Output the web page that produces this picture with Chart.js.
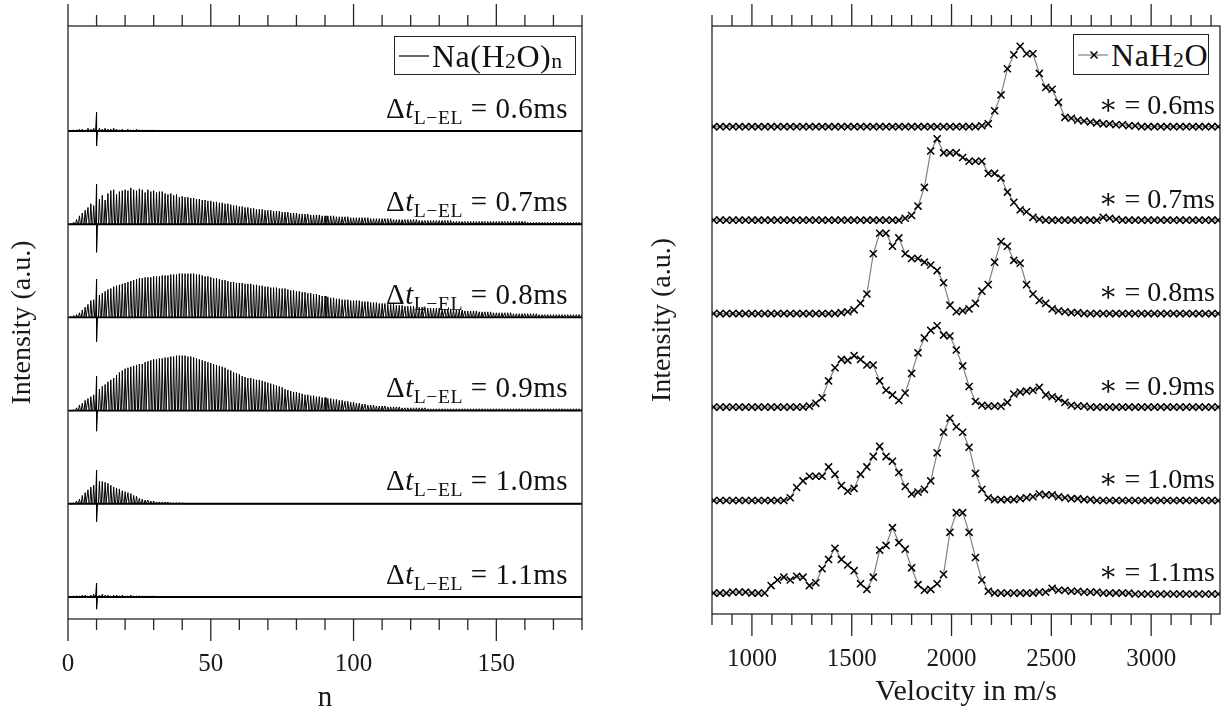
<!DOCTYPE html>
<html>
<head>
<meta charset="utf-8">
<script src="https://cdn.jsdelivr.net/npm/chart.js@4.4.0/dist/chart.umd.min.js"></script>
<style>
  html, body { margin: 0; padding: 0; background: #fff; }
  #wrap { position: relative; width: 1221px; height: 711px; overflow: hidden;
          font-family: 'Liberation Serif', 'DejaVu Serif', serif; color: #111; }
  canvas { position: absolute; top: 0; }
  #spectra { left: 0; }
  #velocity { left: 640px; }
  .note { position: absolute; white-space: nowrap; line-height: 1; }
  .sub { position: relative; top: 0.3em; font-size: 0.68em; }
  .legend { position: absolute; box-sizing: border-box; border: 1.4px solid #262626; background: #fff;
            display: flex; align-items: center; white-space: nowrap; font-size: 32px; line-height: 1; letter-spacing: 0.5px; }
  .legend svg { margin: 0 3px 0 4px; }
</style>
</head>
<body>
<div id="wrap">
  <canvas id="spectra" width="640" height="711"></canvas>
  <canvas id="velocity" width="640" height="711"></canvas>
</div>
<script>
// delay times between laser and extraction, one trace each, top to bottom
const delays = ['0.6', '0.7', '0.8', '0.9', '1.0', '1.1'];
const offsets = [500, 400, 300, 200, 100, 0];

// ---- left: mass spectra, peak height for cluster size n = 1, 2, 3 ...
const nMax = 180;
const h06 = [0,1,1,2,2,1,3,2,3,0, 3,2,3,2,2,3,2,1,2,1, 2,1,1,2,1,1,1,1,1,1];
const h07 = [
  0,2,5,9,12,15,18,22,20,25, 27,31,26,33,36,37,32,35,36,37,
  36,39,37,36,38,37,34,37,35,36, 34,35,35,33,32,33,31,32,29,30,
  29,29,28,28,27,27,26,26,25,25, 24,24,23,23,22,22,21,20,20,19,
  19,18,18,17,17,16,16,16,15,15, 15,14,14,14,13,13,13,12,12,12,
  11,11,11,11,10,10,10,10,9,9, 9,9,9,8,8,8,8,8,7,7,
  7,7,7,7,7,6,6,6,6,6, 6,6,6,5,5,5,5,5,5,5,
  5,5,4,4,4,4,4,4,4,4, 4,4,4,4,3,3,3,3,3,3,
  3,3,3,3,3,3,3,3,3,3, 3,3,3,3,3,3,3,3,3,3,
  2,2,2,2,2,2,2,2,2,2, 2,2,2,2,2,2,2,2,2,2
];
const h08 = [
  1,2,3,5,8,11,14,18,19,21, 24,26,28,30,31,33,34,35,36,37,
  38,39,40,41,42,42,43,43,43,44, 44,44,45,45,45,46,46,46,47,47,
  47,47,47,47,46,46,45,44,44,43, 42,42,41,40,40,39,38,38,37,37,
  37,36,36,36,35,35,34,34,33,33, 32,32,32,31,31,31,30,29,29,28,
  28,27,27,26,26,25,25,24,23,23, 22,21,21,20,20,19,19,19,18,18,
  18,18,17,17,17,16,16,16,15,15, 15,14,14,14,13,13,13,12,12,12,
  12,11,11,11,11,10,10,10,10,10, 9,9,9,9,8,8,8,8,7,7,
  7,7,7,6,6,6,6,6,5,5, 5,5,5,5,5,4,4,4,4,4,
  4,4,4,4,3,3,3,3,3,3, 3,3,3,3,3,3,3,3,3,3
];
const h09 = [
  0,1,3,6,8,11,13,15,17,20, 23,26,28,31,33,35,38,41,43,45,
  46,47,48,49,50,50,52,53,54,55, 55,56,56,57,57,58,58,59,59,59,
  59,58,58,57,56,55,54,53,52,51, 50,49,48,47,46,44,43,41,40,39,
  37,36,35,35,34,33,33,32,31,30, 29,28,27,26,25,23,22,21,20,20,
  19,18,17,17,16,16,15,15,14,14, 13,13,12,12,11,11,10,10,9,9,
  8,8,7,7,6,6,6,5,5,5, 5,4,4,4,4,4,3,3,3,3,
  3,3,3,3,3,2,2,2,2,2, 2,2,2,2,2,2,2,2,2,2,
  2,2,2,2,2,2,2,2,2,2, 2,2,2,2,2,2,2,2,2,2,
  2,2,2,2,2,2,2,2,2,2, 2,2,2,2,2,2,2,2,2,2
];
const h10 = [
  0,1,3,5,9,12,15,18,20,22, 24,24,23,22,20,18,17,16,14,13,
  12,11,9,8,6,5,4,4,3,3, 2,2,2,2,2,1,1,1,1,1
];
const h11 = [0,1,1,1,2,2,1,2,3,0, 2,3,2,2,1,2,2,1,2,1, 1,2,1,1,1,1,1,1,1,1];
const spectra = [h06, h07, h08, h09, h10, h11];
// the strong line at n = 10 goes above and below the baseline
const tallN = 10;
const tallTop = [20, 43, 41, 37, 36, 15];
const tallBottom = [-16, -30, -26, -22, -19, -13];

// ---- right: NaH2O velocity distributions
const velocities = [
  808,840,872,904,936,968,1000,1032,1064,1096, 1128,1160,1192,1224,1256,1288,1320,1352,1384,1416,
  1448,1480,1512,1544,1576,1608,1640,1672,1704,1736, 1768,1800,1832,1864,1896,1928,1960,1992,2024,2056,
  2088,2120,2152,2184,2216,2248,2280,2312,2344,2376, 2408,2440,2472,2504,2536,2568,2600,2632,2664,2696,
  2728,2760,2792,2824,2856,2888,2920,2952,2984,3016, 3048,3080,3112,3144,3176,3208,3240,3272,3304,3336
];
const v06 = [
  0,0,0,0,0,0,0,0,0,0, 0,0,0,0,0,0,0,0,0,0,
  0,0,0,0,0,0,0,0,0,0, 0,0,0,0,0,0,0,0,0,0,
  0,0,1,3,17,34,62,77,86,78, 78,57,42,40,26,10,9,7,6,5,
  4,3,3,2,2,1,1,0,0,0, 0,0,0,0,0,0,0,0,0,0
];
const v07 = [
  0,0,0,0,0,0,0,0,0,0, 0,0,0,0,0,0,0,0,0,0,
  0,0,0,0,0,0,0,0,0,0, 2,5,15,35,74,87,72,72,72,67,
  63,63,63,50,50,45,30,19,11,9, 3,1,0,0,0,0,0,0,0,0,
  0,3,2,1,0,0,0,0,0,0, 0,0,0,0,0,0,0,0,0,0
];
const v08 = [
  0,0,0,0,0,0,0,0,0,0, 0,0,0,0,0,0,0,0,0,0,
  1,2,4,11,21,64,86,86,72,81, 64,59,59,55,52,46,33,9,2,3,
  5,11,24,31,55,77,72,57,54,31, 21,14,11,5,3,2,1,1,0,0,
  0,0,0,0,0,0,0,0,0,0, 0,0,0,0,0,0,0,0,0,0
];
const v09 = [
  0,0,0,0,0,0,0,0,0,0, 0,0,0,0,0,1,4,10,28,42,
  51,50,55,51,45,45,28,18,13,7, 15,36,58,74,82,87,77,76,61,44,
  22,6,2,1,1,1,5,14,16,17, 18,21,13,11,9,5,2,1,1,0,
  0,0,0,0,0,0,0,0,0,0, 0,0,0,0,0,0,0,0,0,0
];
const v10 = [
  0,0,0,0,0,0,0,0,0,0, 0,0,3,14,21,26,26,26,36,28,
  16,10,13,28,36,47,58,47,42,30, 15,7,9,12,21,51,73,88,79,73,
  57,29,12,3,1,1,1,1,2,3, 4,7,6,6,4,3,2,2,1,1,
  0,0,0,0,0,0,0,0,0,0, 0,0,0,0,0,0,0,0,0,0
];
const v11 = [
  1,1,1,2,2,2,1,1,1,9, 15,18,15,19,18,9,12,27,37,49,
  37,31,25,11,5,18,47,52,71,55, 48,28,10,4,5,11,21,66,87,87,
  66,39,15,3,1,1,1,1,1,1, 1,2,2,6,4,4,3,3,2,2,
  2,1,1,1,1,1,0,0,0,0, 0,0,0,0,0,0,0,0,0,0
];
const distributions = [v06, v07, v08, v09, v10, v11];

Chart.defaults.font.family = "'Liberation Serif', 'DejaVu Serif', serif";
Chart.defaults.color = '#111';

// box round the plot area, ticks pointing out at top and bottom
const frameAndTicks = {
  id: 'frameAndTicks',
  afterDraw(chart, args, opts) {
    const { ctx, chartArea: a } = chart;
    const x = chart.scales.x;
    ctx.save();
    ctx.strokeStyle = '#262626';
    ctx.lineWidth = 1.3;
    x.ticks.forEach(t => {
      const px = x.getPixelForValue(t.value);
      const len = t.value % opts.major === 0 ? 22 : 11;
      ctx.beginPath();
      ctx.moveTo(px, a.bottom); ctx.lineTo(px, a.bottom + len);
      ctx.moveTo(px, a.top); ctx.lineTo(px, a.top - len);
      ctx.stroke();
    });
    ctx.strokeRect(a.left, a.top, a.right - a.left, a.bottom - a.top);
    ctx.restore();
  }
};

function axisX(min, max, step, major, title, height, titleSize, titleLine) {
  return {
    type: 'linear', min, max,
    grid: { display: false, drawTicks: false }, border: { display: false },
    ticks: { stepSize: step, autoSkip: false, maxRotation: 0, includeBounds: false, padding: 30,
             color: '#1a1a1a', font: { size: 25 }, callback: v => v % major === 0 ? v : '' },
    title: { display: true, text: title, color: '#1a1a1a', font: { size: titleSize, lineHeight: titleLine },
             padding: { top: 0, bottom: 0 } },
    afterFit: s => { s.height = height; }
  };
}
function axisY(min, max, width) {
  return {
    min, max,
    ticks: { display: false }, grid: { display: false, drawTicks: false }, border: { display: false },
    title: { display: true, text: 'Intensity (a.u.)', color: '#1a1a1a', font: { size: 28 }, padding: { top: 6, bottom: 0 } },
    afterFit: s => { s.width = width; }
  };
}

// left panel: one spike per cluster size, drawn up from the trace baseline
const spectraSets = [];
spectra.forEach((h, i) => {
  const base = offsets[i];
  const pts = [{ x: 0, y: base }];
  h.forEach((val, j) => {
    const n = j + 1;
    if (n === tallN) {
      pts.push({ x: n - 0.35, y: base }, { x: n, y: base + tallTop[i] },
               { x: n, y: base + tallBottom[i] }, { x: n + 0.35, y: base });
    } else {
      pts.push({ x: n - 0.35, y: base }, { x: n, y: base + val }, { x: n + 0.35, y: base });
    }
  });
  pts.push({ x: nMax, y: base });
  spectraSets.push({ data: [{ x: 0, y: base }, { x: nMax, y: base }], borderColor: '#000', borderWidth: 1.9 });
  spectraSets.push({ data: pts, borderColor: '#000', borderWidth: 1 });
});

const leftChart = new Chart(document.getElementById('spectra'), {
  type: 'line',
  data: { datasets: spectraSets },
  options: {
    responsive: false, animation: false, events: [],
    layout: { padding: { top: 26, right: 58, left: 0, bottom: 0 } },
    elements: { point: { radius: 0 }, line: { tension: 0, borderJoinStyle: 'bevel' } },
    plugins: { legend: { display: false }, tooltip: { enabled: false }, frameAndTicks: { major: 50 } },
    scales: { x: axisX(0, nMax, 10, 50, 'n', 92, 29, 0.9), y: axisY(-23.6, 612.7, 68) }
  },
  plugins: [frameAndTicks]
});

// right panel: velocity distributions with cross markers
const velocitySets = distributions.map((vals, i) => ({
  data: velocities.map((v, k) => ({ x: v, y: offsets[i] + vals[k] })),
  borderColor: '#808080', borderWidth: 1.2,
  pointStyle: 'crossRot', pointRadius: 5, pointBorderColor: '#000', pointBorderWidth: 1.5,
  pointBackgroundColor: 'rgba(0,0,0,0)'
}));

const rightChart = new Chart(document.getElementById('velocity'), {
  type: 'line',
  data: { datasets: velocitySets },
  options: {
    responsive: false, animation: false, events: [],
    layout: { padding: { top: 26, right: 60, left: 0, bottom: 0 } },
    elements: { line: { tension: 0 } },
    plugins: { legend: { display: false }, tooltip: { enabled: false }, frameAndTicks: { major: 500 } },
    scales: { x: axisX(800, 3345, 100, 500, 'Velocity in m/s', 97, 30, 1.25), y: axisY(-21.4, 607.7, 72) }
  },
  plugins: [frameAndTicks]
});

// text in the plots, placed from the chart scales
const wrap = document.getElementById('wrap');
function placeNote(html, chart, canvasLeft, value, inset, lift, size, spacing) {
  const el = document.createElement('div');
  el.className = 'note';
  el.innerHTML = html;
  el.style.fontSize = size + 'px';
  el.style.letterSpacing = spacing + 'px';
  wrap.appendChild(el);
  const base = chart.scales.y.getPixelForValue(value) - lift;
  el.style.right = (1221 - (canvasLeft + chart.chartArea.right - inset)) + 'px';
  el.style.top = (base - size * 0.84) + 'px';
}
delays.forEach((d, i) => {
  placeNote('\u0394<i>t</i><span class="sub">L\u2212EL</span> = ' + d + 'ms', leftChart, 0, offsets[i], 14, 13, 29, 0.5);
  placeNote('\u2217 = ' + d + 'ms', rightChart, 640, offsets[i], 5, 12, 28, 0);
});

function placeLegend(html, chart, canvasLeft, inset, top, width, height) {
  const el = document.createElement('div');
  el.className = 'legend';
  el.innerHTML = html;
  wrap.appendChild(el);
  el.style.left = (canvasLeft + chart.chartArea.right - inset - width) + 'px';
  el.style.top = (chart.chartArea.top + top) + 'px';
  el.style.width = width + 'px';
  el.style.height = height + 'px';
}
placeLegend('<svg width="30" height="10"><line x1="0" y1="5" x2="30" y2="5" stroke="#000" stroke-width="1.2"/></svg>' +
  'Na(H<span class="sub">2</span>O)<span class="sub">n</span>', leftChart, 0, 6, 10, 182, 39);
placeLegend('<svg width="32" height="12"><line x1="0" y1="6" x2="32" y2="6" stroke="#808080" stroke-width="1.2"/>' +
  '<path d="M12.5 2.5 L19.5 9.5 M19.5 2.5 L12.5 9.5" stroke="#000" stroke-width="1.5"/></svg>' +
  'NaH<span class="sub">2</span>O', rightChart, 640, 11, 8, 136, 41);
</script>
</body>
</html>
